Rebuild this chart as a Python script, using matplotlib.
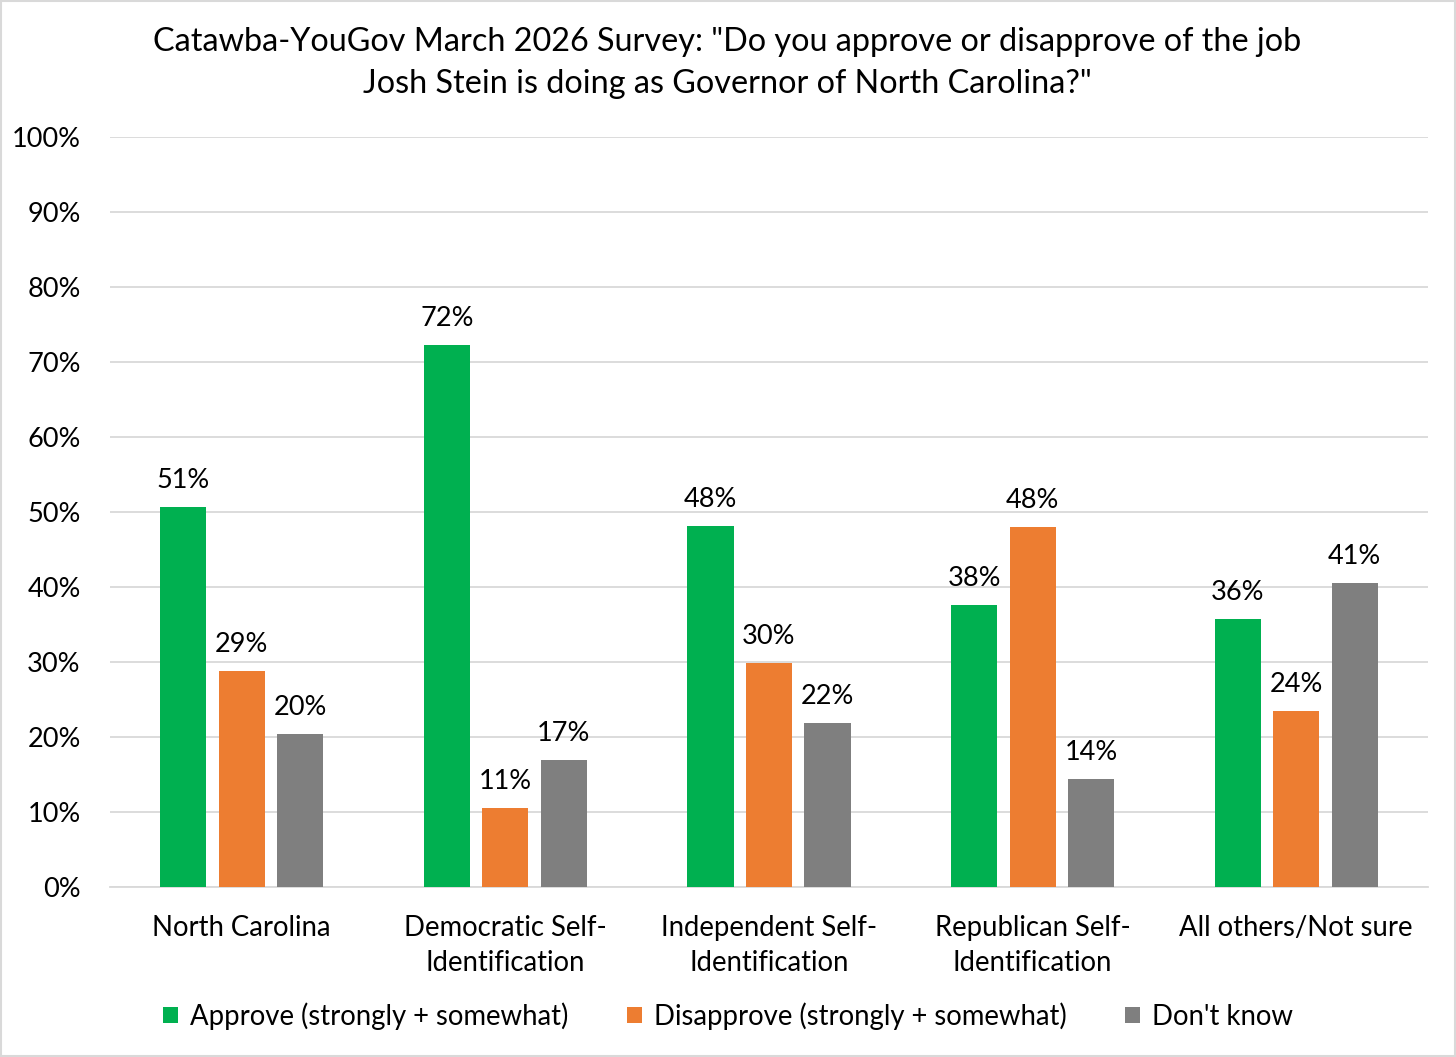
import numpy as np
import matplotlib.pyplot as plt
from matplotlib.patches import Rectangle

plt.rcParams['font.family'] = ['Lato', 'DejaVu Sans']

# dados
categorias = ['North Carolina', 'Democratic Self-\nIdentification', 'Independent Self-\nIdentification',
              'Republican Self-\nIdentification', 'All others/Not sure']
aprova = [50.7, 72.3, 48.1, 37.6, 35.8]
desaprova = [28.8, 10.6, 29.9, 48.0, 23.5]
nao_sabe = [20.4, 16.9, 21.9, 14.4, 40.6]
series = ['Approve (strongly + somewhat)', 'Disapprove (strongly + somewhat)', "Don't know"]
cores = ['#00B050', '#ED7D31', '#7F7F7F']
yticks = np.arange(0, 101, 10)

fig = plt.figure(figsize=(14.56, 10.57), dpi=100)
ax = fig.add_axes([0.0755, 0.1608, 0.9053, 0.7096])

x = np.arange(len(categorias))
largura = 0.175
passo = 0.222
for i, (vals, nome, cor) in enumerate(zip([aprova, desaprova, nao_sabe], series, cores)):
    barras = ax.bar(x + (i - 1) * passo, vals, largura, color=cor, label=nome, zorder=3)
    ax.bar_label(barras, labels=[f'{v:.0f}%' for v in vals], padding=10, fontsize=19.5)

ax.set_xlim(-0.5, len(categorias) - 0.5)
ax.set_ylim(0, 100)
ax.set_yticks(yticks)
ax.set_yticklabels([f'{t}%' for t in yticks], fontsize=19.5)
ax.set_xticks(x)
ax.set_xticklabels(categorias, fontsize=19.8, linespacing=1.45)
ax.tick_params(axis='y', length=0, pad=21)
ax.tick_params(axis='x', length=0, pad=20)
ax.grid(axis='y', color='#D9D9D9', linewidth=1.3, zorder=0)
for lado in ['top', 'right', 'left']:
    ax.spines[lado].set_visible(False)
ax.spines['bottom'].set_color('#D9D9D9')
ax.spines['bottom'].set_linewidth(1.3)

fig.text(0.4993, 0.9404, 'Catawba-YouGov March 2026 Survey: "Do you approve or disapprove of the job\n'
         'Josh Stein is doing as Governor of North Carolina?"',
         ha='center', va='center', fontsize=23.3, linespacing=1.5)

fig.legend(loc='center', bbox_to_anchor=(0.5, 0.039), ncol=3, frameon=False, fontsize=19.8,
           handlelength=0.55, handleheight=0.55, handletextpad=0.45, columnspacing=2.1)

# moldura cinza
fig.patches.append(Rectangle((0.001, 0.001), 0.998, 0.998, transform=fig.transFigure,
                             fill=False, edgecolor='#D9D9D9', linewidth=1.5))

fig.savefig('out.png', dpi=100)
